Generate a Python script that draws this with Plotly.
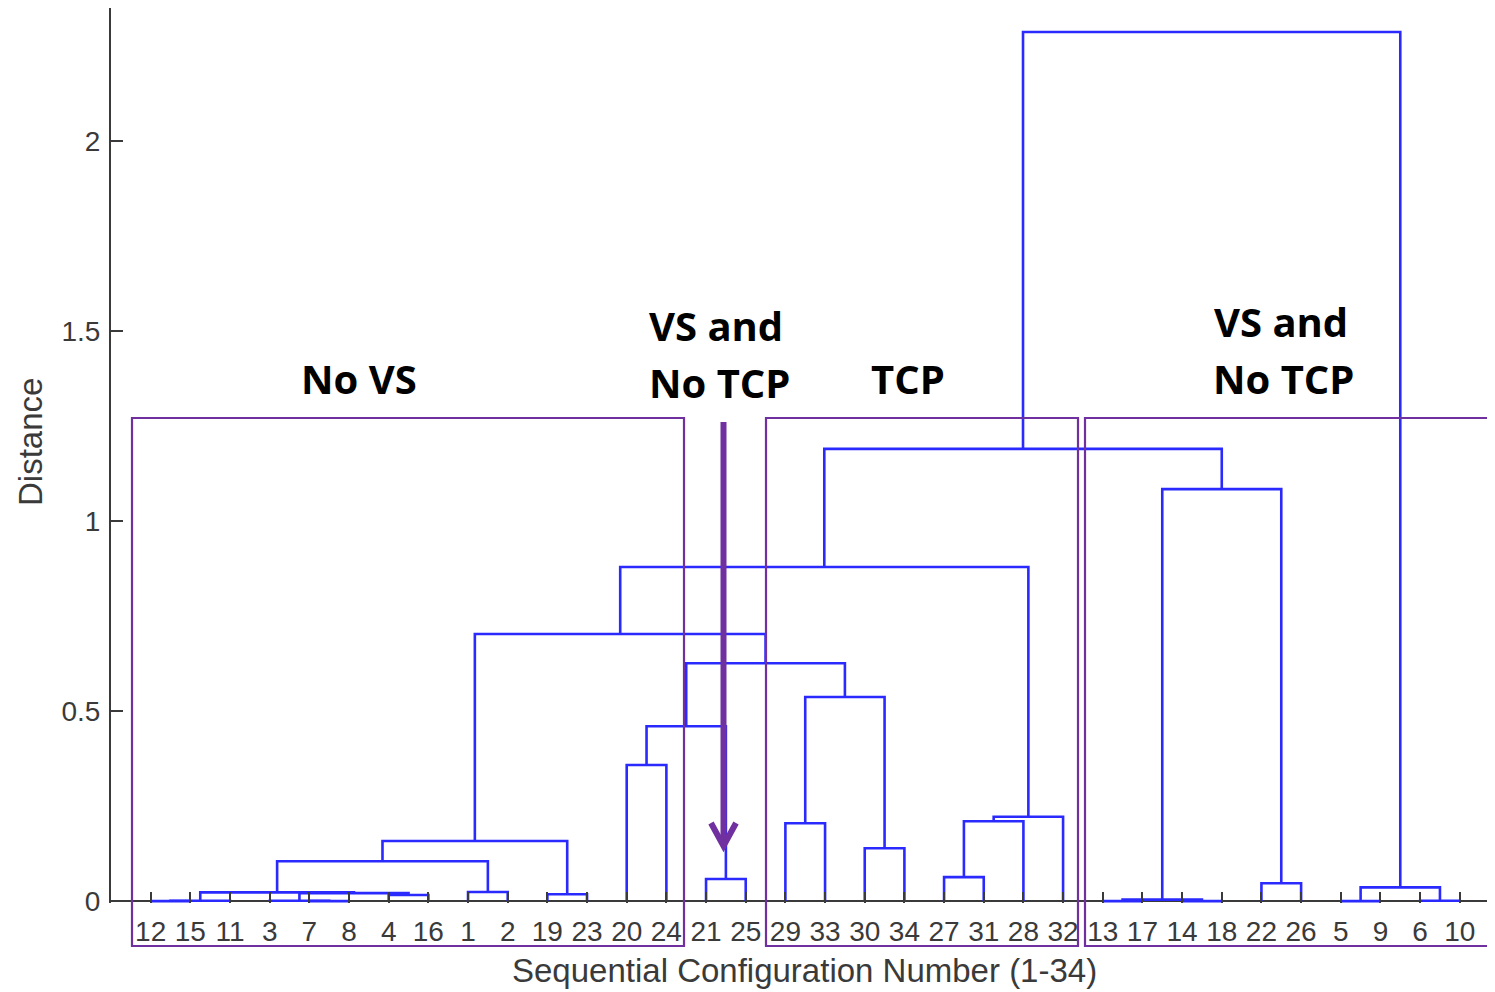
import plotly.graph_objects as go

# ---------------- data ----------------
leaf_order = [12, 15, 11, 3, 7, 8, 4, 16, 1, 2, 19, 23, 20, 24, 21, 25,
              29, 33, 30, 34, 27, 31, 28, 32, 13, 17, 14, 18, 22, 26, 5, 9, 6, 10]
n_leaves = 34
# linkage (MATLAB style): leaves are 1..34, merge k creates node 34+k
merge_a = [12, 35, 7, 3, 4, 38, 36, 1, 41, 19, 43, 20, 21, 46, 29, 30, 49, 48,
           45, 27, 54, 55, 53, 13, 14, 58, 22, 60, 57, 5, 6, 64, 63]
merge_b = [15, 11, 8, 37, 16, 39, 40, 2, 42, 23, 44, 24, 25, 47, 33, 34, 50, 51,
           52, 31, 28, 32, 56, 17, 18, 59, 26, 61, 62, 9, 10, 65, 66]
merge_h = [0.000, 0.001, 0.000, 0.001, 0.016, 0.021, 0.023, 0.024, 0.105, 0.018,
           0.158, 0.358, 0.058, 0.460, 0.205, 0.139, 0.537, 0.626, 0.703, 0.063,
           0.210, 0.222, 0.879, 0.000, 0.000, 0.004, 0.047, 1.084, 1.190, 0.000,
           0.001, 0.036, 2.287]

y_ticks = [0, 0.5, 1, 1.5, 2]
y_ticklabels = ["0", "0.5", "1", "1.5", "2"]
group_labels = ["No VS", "VS and", "No TCP", "TCP", "VS and", "No TCP"]

# ---------------- dendrogram geometry via linkage ----------------
node_x = {leaf: i + 1 for i, leaf in enumerate(leaf_order)}
node_h = {leaf: 0.0 for leaf in leaf_order}
xs, ys = [], []
for k, (a, b, h) in enumerate(zip(merge_a, merge_b, merge_h)):
    nid = n_leaves + k + 1
    xa, xb = node_x[a], node_x[b]
    xs += [xa, xa, xb, xb, None]
    ys += [node_h[a], h, h, node_h[b], None]
    node_x[nid] = (xa + xb) / 2
    node_h[nid] = h

OFF = 8  # page body margin
W, H = 1495 - OFF, 992 - OFF
L, R, T, B = 103, 0, 0, 89
PW, PH = W - L - R, H - T - B


def px(xpage):
    return (xpage - OFF - L) / PW


def py(ypage):
    return (H - B - (ypage - OFF)) / PH


PURPLE = "#7030A0"
AXC = "#3a3a3a"

fig = go.Figure()
fig.add_trace(go.Scatter(x=xs, y=ys, mode="lines",
                         line=dict(color="#2a2aff", width=2.6),
                         hoverinfo="skip", showlegend=False))

shapes = []
# group boxes
for x0, x1 in [(132, 684), (766, 1078), (1085, 1502)]:
    shapes.append(dict(type="rect", xref="paper", yref="paper",
                       x0=px(x0), x1=px(x1), y0=py(946), y1=py(418),
                       line=dict(color=PURPLE, width=2.2), layer="above"))
# arrow
shapes.append(dict(type="line", xref="paper", yref="paper",
                   x0=px(723.5), x1=px(723.5), y0=py(422), y1=py(845),
                   line=dict(color=PURPLE, width=6)))
shapes.append(dict(type="path", xref="paper", yref="paper",
                   path=f"M {px(711)} {py(823)} L {px(723.5)} {py(846)} L {px(736)} {py(823)}",
                   line=dict(color=PURPLE, width=6)))

ann = []
bold = dict(family="Open Sans", size=40, color="black", weight="bold")
for text, cx, cy in zip(group_labels,
                        [359, 716, 719, 908, 1281, 1283],
                        [378, 326, 383, 378, 322, 379]):
    ann.append(dict(text=text, x=px(cx), y=py(cy), xref="paper", yref="paper",
                    xanchor="center", yanchor="middle", showarrow=False, font=bold))
ann.append(dict(text="Distance", x=px(30), y=py(442), xref="paper", yref="paper",
                textangle=-90, xanchor="center", yanchor="middle", showarrow=False,
                font=dict(family="Liberation Sans", size=33, color=AXC)))
ann.append(dict(text="Sequential Configuration Number (1-34)", x=px(804), y=py(971),
                xref="paper", yref="paper", xanchor="center", yanchor="middle",
                showarrow=False, font=dict(family="Liberation Sans", size=33, color=AXC)))

fig.update_layout(
    width=W, height=H, margin=dict(l=L, r=R, t=T, b=B),
    paper_bgcolor="white", plot_bgcolor="white",
    shapes=shapes, annotations=ann,
    xaxis=dict(range=[0, PW / 39.67], tickvals=list(range(1, n_leaves + 1)),
               ticktext=[str(v) for v in leaf_order], ticks="inside", ticklen=11,
               tickwidth=2, tickcolor=AXC, showgrid=False, zeroline=False,
               showline=False, ticklabelstandoff=9,
               tickfont=dict(family="Liberation Sans", size=28, color=AXC)),
    yaxis=dict(range=[-0.005, 2.35], tickvals=y_ticks, ticktext=y_ticklabels,
               ticks="inside", ticklen=12, tickwidth=2, tickcolor=AXC,
               showgrid=False, zeroline=True, zerolinecolor=AXC, zerolinewidth=2,
               showline=True, linecolor=AXC, linewidth=2, ticklabelstandoff=3,
               tickfont=dict(family="Liberation Sans", size=28, color=AXC)),
)
fig.write_html("out.html")
